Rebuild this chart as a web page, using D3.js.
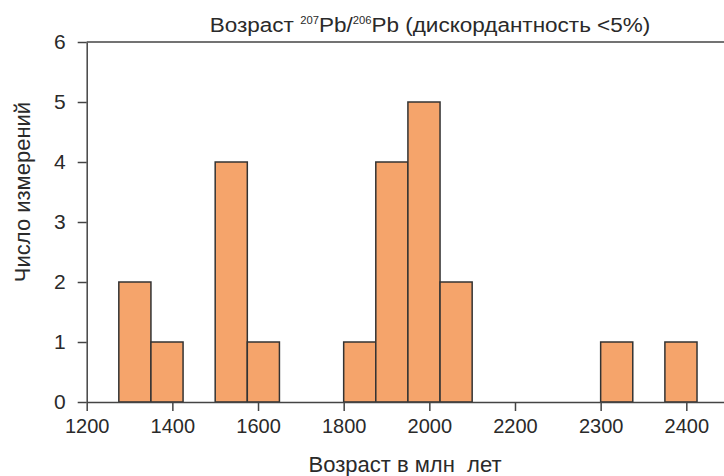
<!DOCTYPE html>
<html>
<head>
<meta charset="utf-8">
<script src="https://cdn.jsdelivr.net/npm/d3@7"></script>
<style>
  body { margin: 0; background: #fff; }
  svg text { font-family: "Liberation Sans", Arial, sans-serif; fill: #2a2a2a; }
</style>
</head>
<body>
<div id="chart"></div>
<script>
// bin starts on the axis' own position scale (bins 75 wide)
const binStarts = [1275, 1350, 1500, 1575, 1800, 1875, 1950, 2025, 2400, 2550];
const counts = [2, 1, 4, 1, 1, 4, 5, 2, 1, 1];
const binWidth = 75;
const xTickValues = [1200, 1400, 1600, 1800, 2000, 2200, 2400, 2600];
const xTickLabels = ["1200", "1400", "1600", "1800", "2000", "2200", "2300", "2400"];
const yTicks = [0, 1, 2, 3, 4, 5, 6];

const width = 724, height = 476;
const margin = { top: 42, right: 0, bottom: 74, left: 86.7 };

const svg = d3.select("#chart").append("svg")
    .attr("width", width)
    .attr("height", height);

const x = d3.scaleLinear()
    .domain([1200, 2688])
    .range([margin.left, width - margin.right]);

const y = d3.scaleLinear()
    .domain([0, 6])
    .range([height - margin.bottom, margin.top]);

// bars
svg.append("g")
    .selectAll("rect")
    .data(binStarts)
    .enter()
    .append("rect")
    .attr("x", (d) => x(d))
    .attr("y", (d, i) => y(counts[i]))
    .attr("width", (d) => x(d + binWidth) - x(d))
    .attr("height", (d, i) => y(0) - y(counts[i]))
    .attr("fill", "#f5a46b")
    .attr("stroke", "#333")
    .attr("stroke-width", 1.5);

// x axis
const xAxis = svg.append("g")
    .attr("transform", `translate(0, ${y(0)})`)
    .call(d3.axisBottom(x)
        .tickValues(xTickValues)
        .tickFormat((d, i) => xTickLabels[i])
        .tickSize(9)
        .tickSizeOuter(0)
        .tickPadding(8));
xAxis.select(".domain").attr("stroke", "#444").attr("stroke-width", 1.5);
xAxis.selectAll(".tick line").attr("stroke", "#444").attr("stroke-width", 1.5);
xAxis.selectAll("text").style("font-size", "20px");

// y axis
const yAxis = svg.append("g")
    .attr("transform", `translate(${margin.left}, 0)`)
    .call(d3.axisLeft(y)
        .tickValues(yTicks)
        .tickFormat(d3.format("d"))
        .tickSize(9)
        .tickSizeOuter(0)
        .tickPadding(12));
yAxis.select(".domain").attr("stroke", "#444").attr("stroke-width", 1.5);
yAxis.selectAll(".tick line").attr("stroke", "#444").attr("stroke-width", 1.5);
yAxis.selectAll("text").style("font-size", "21px");

// top frame line
svg.append("line")
    .attr("x1", margin.left)
    .attr("x2", width)
    .attr("y1", y(6))
    .attr("y2", y(6))
    .attr("stroke", "#444")
    .attr("stroke-width", 1.5);

// title with superscripts
const title = svg.append("text")
    .attr("x", 430)
    .attr("y", 32)
    .attr("text-anchor", "middle")
    .style("font-size", "20px");
title.append("tspan").text("Возраст ");
title.append("tspan").text("207").style("font-size", "10px").attr("dy", -8);
title.append("tspan").text("Pb/").attr("dy", 8);
title.append("tspan").text("206").style("font-size", "10px").attr("dy", -8);
title.append("tspan").text("Pb (дискордантность <5%)").attr("dy", 8);

// squeeze the title to the narrow width of the original
const tw = title.node().getComputedTextLength();
const target = 441;
title.attr("transform", `translate(430,0) scale(${target / tw},1) translate(-430,0)`);

// axis titles
svg.append("text")
    .attr("x", 405)
    .attr("y", 472)
    .attr("text-anchor", "middle")
    .style("font-size", "22px")
    .style("white-space", "pre")
    .text("Возраст в млн  лет");

svg.append("text")
    .attr("transform", "translate(30, 192) rotate(-90)")
    .attr("text-anchor", "middle")
    .style("font-size", "22px")
    .text("Число измерений");
</script>
</body>
</html>
